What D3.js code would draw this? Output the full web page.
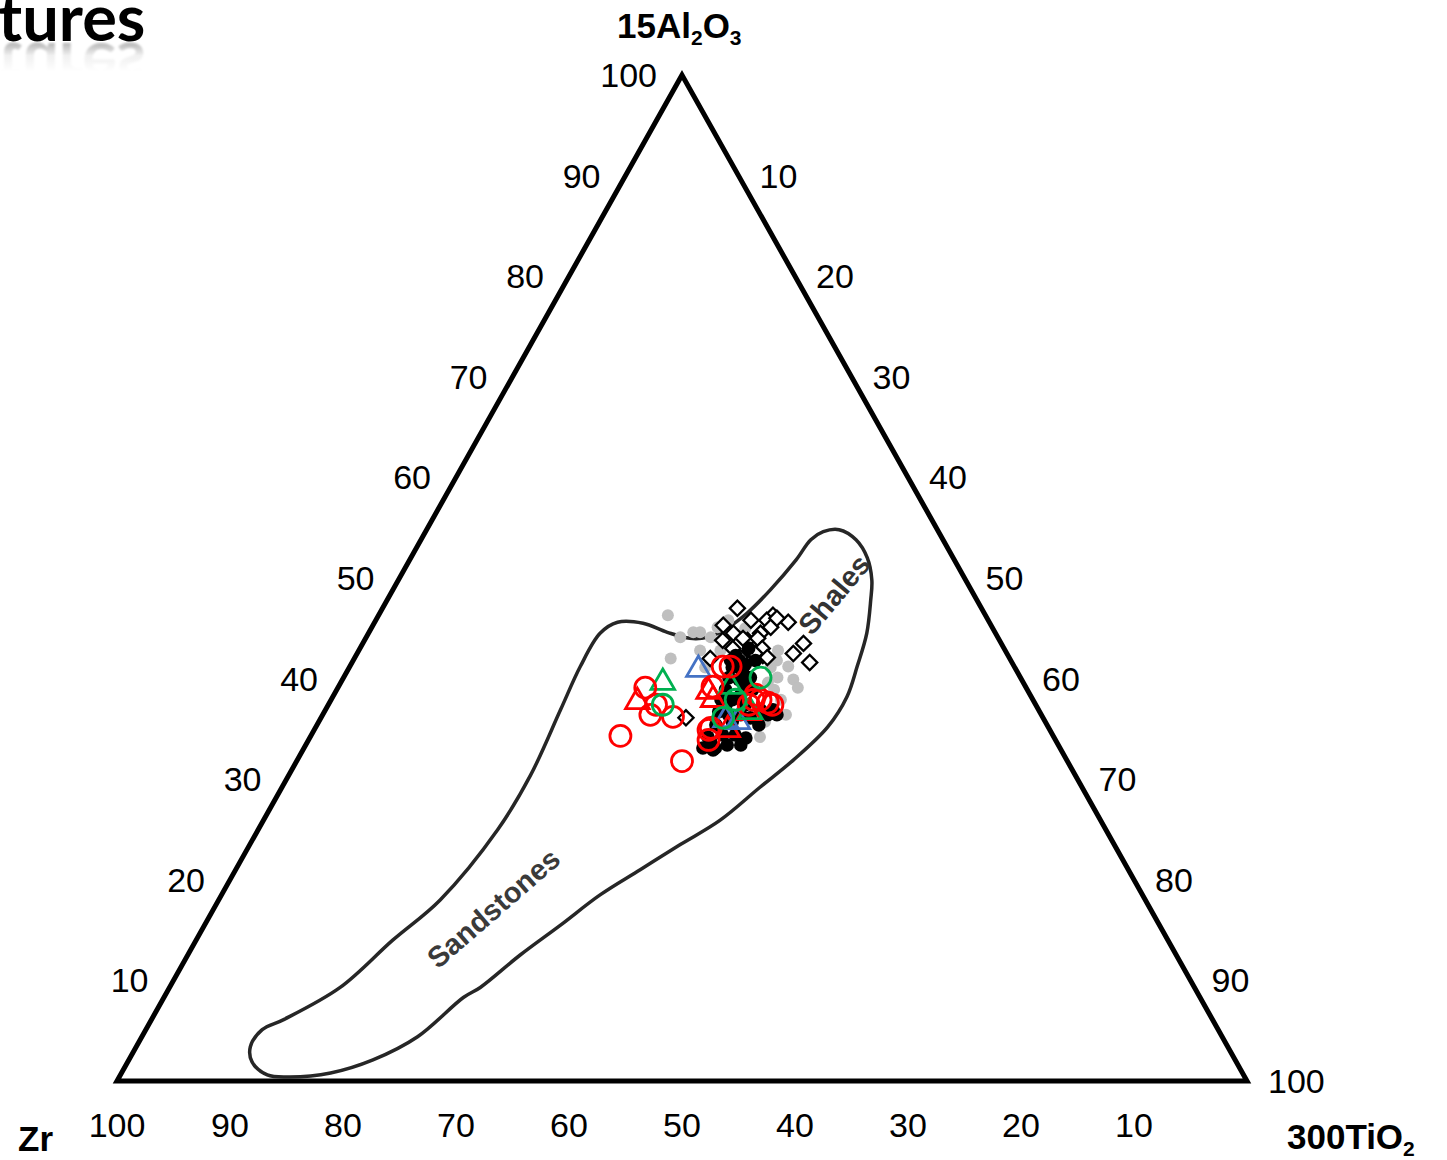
<!DOCTYPE html>
<html>
<head>
<meta charset="utf-8">
<script src="https://cdn.jsdelivr.net/npm/d3@7"></script>
<style>
  body { margin: 0; background: #fff; }
  svg { display: block; }
</style>
</head>
<body>
<svg id="chart" width="1447" height="1160"></svg>
<script>
// Ternary values: [15Al2O3, 300TiO2]; Zr is the balance to 100.
const tickValues = [10, 20, 30, 40, 50, 60, 70, 80, 90, 100];

// Field outline (Sandstones -> Shales), traced clockwise from the shale cap
const envelope = [
  [54.6, 35.2], [54.8, 36.5], [53.8, 38.5], [52.0, 40.4], [49.8, 41.9], [47.8, 42.8],
  [44.5, 44.1], [41.2, 44.9], [38.2, 45.5], [35.2, 45.3], [31.9, 43.9], [29.2, 42.3],
  [25.9, 40.4], [23.5, 38.1], [21.0, 35.8], [18.5, 33.5], [15.5, 31.5], [12.5, 29.4],
  [9.3, 27.5], [8.3, 26.5], [4.4, 24.4], [2.1, 21.6], [0.8, 18.5], [0.4, 15.1],
  [0.6, 13.0], [1.9, 11.0], [3.4, 10.1], [5.1, 10.3], [6.1, 11.7], [9.3, 15.1],
  [14.0, 17.4], [18.0, 19.6], [25.0, 21.2], [30.4, 21.4], [36.9, 20.8], [41.2, 20.4],
  [44.5, 20.5], [45.6, 21.5], [45.5, 23.8], [44.6, 26.4], [44.0, 28.7], [44.1, 30.2],
  [44.8, 31.3], [46.5, 32.5], [48.8, 33.4], [51.8, 34.2], [53.8, 34.5]
];

const greyDots = [
  [46.3, 25.6], [42.0, 28.0], [44.6, 29.3], [44.1, 27.8], [44.6, 28.7], [45.1, 30.6],
  [45.8, 31.2], [44.1, 30.5], [42.8, 32.0], [34.2, 39.8], [39.9, 39.9], [41.2, 38.8],
  [40.1, 38.4], [38.9, 38.7], [37.9, 39.8], [39.6, 37.8], [39.1, 40.7], [41.8, 37.5],
  [41.1, 37.3], [36.4, 41.0], [35.7, 39.5], [42.8, 37.1], [45.0, 33.1], [42.8, 30.2],
  [41.1, 31.5]
];

const blackDots = [
  [42.3, 33.6], [41.8, 34.2], [41.4, 34.9], [41.1, 33.9], [40.7, 35.0], [40.1, 36.0],
  [39.9, 35.1], [40.1, 34.1], [39.1, 36.1], [38.9, 36.8], [38.4, 36.0], [37.9, 35.5],
  [37.4, 36.9], [37.4, 35.2], [36.7, 34.9], [36.4, 35.9], [36.4, 37.0], [36.1, 38.0],
  [35.4, 35.3], [34.4, 36.4], [34.4, 37.5], [34.1, 38.6], [33.7, 35.7], [33.1, 35.3],
  [33.1, 36.4], [33.4, 37.3], [33.4, 38.5], [32.9, 36.3], [36.4, 39.4], [36.9, 39.6],
  [36.4, 40.2], [36.9, 38.5], [38.9, 34.4], [37.9, 34.5], [41.8, 35.6], [43.0, 34.4],
  [41.8, 33.4], [34.2, 35.2], [35.7, 36.6], [35.4, 39.1]
];

const blackDiamonds = [
  [47.0, 31.4], [45.8, 33.2], [46.3, 34.9], [45.6, 36.6], [45.3, 31.0], [44.5, 32.3],
  [43.8, 31.7], [43.8, 33.9], [44.5, 34.7], [42.0, 31.5], [42.3, 36.0], [42.5, 38.6],
  [43.5, 39.0], [41.6, 40.5], [36.1, 32.3], [42.8, 34.6], [42.1, 34.1], [45.8, 34.6],
  [45.1, 35.3], [44.0, 34.7], [44.0, 33.4], [43.0, 35.6], [43.0, 33.0], [42.5, 35.2],
  [46.0, 35.4], [42.1, 36.5]
];

const redCircles = [
  [39.1, 27.2], [36.4, 29.0], [36.2, 31.1], [34.3, 27.4], [31.8, 34.1], [37.4, 29.0],
  [34.9, 34.9], [33.9, 35.4], [41.2, 33.0], [41.2, 33.7], [39.2, 33.1], [37.9, 38.0],
  [37.4, 39.3], [37.9, 37.4], [37.6, 38.8], [38.4, 37.3], [37.4, 37.2], [35.1, 35.0]
];

const redTriangles = [
  [37.7, 27.2], [38.7, 33.0], [37.9, 33.8], [34.9, 36.6], [36.6, 37.6]
];

const greenCircles = [
  [40.1, 36.9], [37.4, 29.6], [37.9, 35.8], [36.1, 35.6]
];

const greenTriangles = [
  [39.6, 28.5], [39.2, 34.7], [36.7, 37.7]
];

const blueTriangles = [
  [40.9, 31.0], [35.9, 35.9], [35.7, 37.1]
];

// ---- layout ----
const svg = d3.select("#chart");
const x = d3.scaleLinear().domain([0, 100]).range([117, 1247]);
const y = d3.scaleLinear().domain([0, 100]).range([1081, 75]);
// position of a composition [Al, Ti]
const px = d => x(d[1] + d[0] / 2);
const py = d => y(d[0]);

const FONT = "'Liberation Sans', Arial, sans-serif";

// ---- heading fragment with a soft mirrored reflection ----
const defs = svg.append("defs");
const grad = defs.append("linearGradient")
  .attr("id", "reflectFade").attr("x1", 0).attr("y1", 0).attr("x2", 0).attr("y2", 1);
grad.append("stop").attr("offset", "0%").attr("stop-color", "#fff").attr("stop-opacity", 0.3);
grad.append("stop").attr("offset", "45%").attr("stop-color", "#fff").attr("stop-opacity", 0.06);
grad.append("stop").attr("offset", "100%").attr("stop-color", "#fff").attr("stop-opacity", 0);
defs.append("mask").attr("id", "reflectMask")
  .attr("maskUnits", "userSpaceOnUse")
  .attr("x", 0).attr("y", 0).attr("width", 300).attr("height", 120)
  .append("rect")
  .attr("x", 0).attr("y", 42).attr("width", 300).attr("height", 30)
  .attr("fill", "url(#reflectFade)");
defs.append("filter").attr("id", "soft")
  .append("feGaussianBlur").attr("stdDeviation", 0.8);

svg.append("text")
  .attr("id", "heading")
  .attr("x", -2).attr("y", 41)
  .attr("font-family", "Lato, 'Open Sans', sans-serif")
  .attr("font-weight", 700).attr("font-size", 65)
  .attr("fill", "#000")
  .text("tures");

svg.append("g")
  .attr("mask", "url(#reflectMask)")
  .append("use")
  .attr("href", "#heading")
  .attr("transform", "translate(0,84) scale(1,-1)")
  .attr("filter", "url(#soft)");

// ---- triangle frame ----
const corners = [[100, 0], [0, 0], [0, 100]];
svg.append("path")
  .attr("d", d3.line().x(px).y(py)(corners) + "Z")
  .attr("fill", "none")
  .attr("stroke", "#000")
  .attr("stroke-width", 5)
  .attr("stroke-linejoin", "miter");

// ---- field outline ----
svg.append("path")
  .attr("d", d3.line().x(px).y(py).curve(d3.curveCatmullRomClosed.alpha(0.5))(envelope))
  .attr("fill", "none")
  .attr("stroke", "#262626")
  .attr("stroke-width", 3.5);

svg.append("text")
  .attr("transform", "translate(836,596) rotate(-50)")
  .attr("text-anchor", "middle").attr("dominant-baseline", "middle")
  .attr("font-family", FONT).attr("font-weight", 700).attr("font-size", 29)
  .attr("fill", "#333")
  .text("Shales");

svg.append("text")
  .attr("transform", "translate(495,910) rotate(-41)")
  .attr("text-anchor", "middle").attr("dominant-baseline", "middle")
  .attr("font-family", FONT).attr("font-weight", 700).attr("font-size", 29)
  .attr("fill", "#3a3a3a")
  .text("Sandstones");

// ---- tick labels ----
const ticks = svg.append("g")
  .attr("font-family", FONT).attr("font-size", 34).attr("fill", "#000");

// left edge: 15Al2O3
ticks.selectAll(".tl").data(tickValues).join("text")
  .attr("x", v => px([v, 0]) - 25)
  .attr("y", v => py([v, 0]))
  .attr("text-anchor", "end").attr("dominant-baseline", "central")
  .text(v => v);

// right edge: 300TiO2
ticks.selectAll(".tr").data(tickValues).join("text")
  .attr("x", v => px([100 - v, v]) + 21)
  .attr("y", v => py([100 - v, v]))
  .attr("text-anchor", "start").attr("dominant-baseline", "central")
  .text(v => v);

// base: Zr
ticks.selectAll(".tb").data(tickValues).join("text")
  .attr("x", v => px([0, 100 - v]))
  .attr("y", v => py([0, 100 - v]) + 44)
  .attr("text-anchor", "middle").attr("dominant-baseline", "central")
  .text(v => v);

// ---- apex titles ----
const titles = svg.append("g")
  .attr("font-family", FONT).attr("font-weight", 700).attr("font-size", 35).attr("fill", "#000");

const tAl = titles.append("text").attr("x", 617).attr("y", 38);
tAl.append("tspan").text("15Al");
tAl.append("tspan").attr("font-size", 21).attr("dy", 7).text("2");
tAl.append("tspan").attr("dy", -7).text("O");
tAl.append("tspan").attr("font-size", 21).attr("dy", 7).text("3");

titles.append("text").attr("x", 18).attr("y", 1151).text("Zr");

const tTi = titles.append("text").attr("x", 1287).attr("y", 1149);
tTi.append("tspan").text("300TiO");
tTi.append("tspan").attr("font-size", 21).attr("dy", 7).text("2");

// ---- samples ----
const pts = svg.append("g");

pts.selectAll(".grey").data(greyDots).join("circle")
  .attr("cx", px).attr("cy", py).attr("r", 6)
  .attr("fill", "#bfbfbf");

const diamond = d3.symbol(d3.symbolSquare, 115);
pts.selectAll(".dia").data(blackDiamonds).join("path")
  .attr("d", diamond)
  .attr("transform", d => `translate(${px(d)},${py(d)}) rotate(45)`)
  .attr("fill", "#fff").attr("stroke", "#000").attr("stroke-width", 2.3);

pts.selectAll(".blk").data(blackDots).join("circle")
  .attr("cx", px).attr("cy", py).attr("r", 6.8)
  .attr("fill", "#000");

const tri = d3.symbol(d3.symbolTriangle, 240);
function openTriangles(data, color) {
  pts.append("g").selectAll("path").data(data).join("path")
    .attr("d", tri)
    .attr("transform", d => `translate(${px(d)},${py(d)})`)
    .attr("fill", "none").attr("stroke", color).attr("stroke-width", 2.8);
}
function openCircles(data, color) {
  pts.append("g").selectAll("circle").data(data).join("circle")
    .attr("cx", px).attr("cy", py).attr("r", 10.5)
    .attr("fill", "none").attr("stroke", color).attr("stroke-width", 2.8);
}

openTriangles(redTriangles, "#ff0000");
openTriangles(blueTriangles, "#4472c4");
openTriangles(greenTriangles, "#00b050");
openCircles(redCircles, "#ff0000");
openCircles(greenCircles, "#00b050");
</script>
</body>
</html>
